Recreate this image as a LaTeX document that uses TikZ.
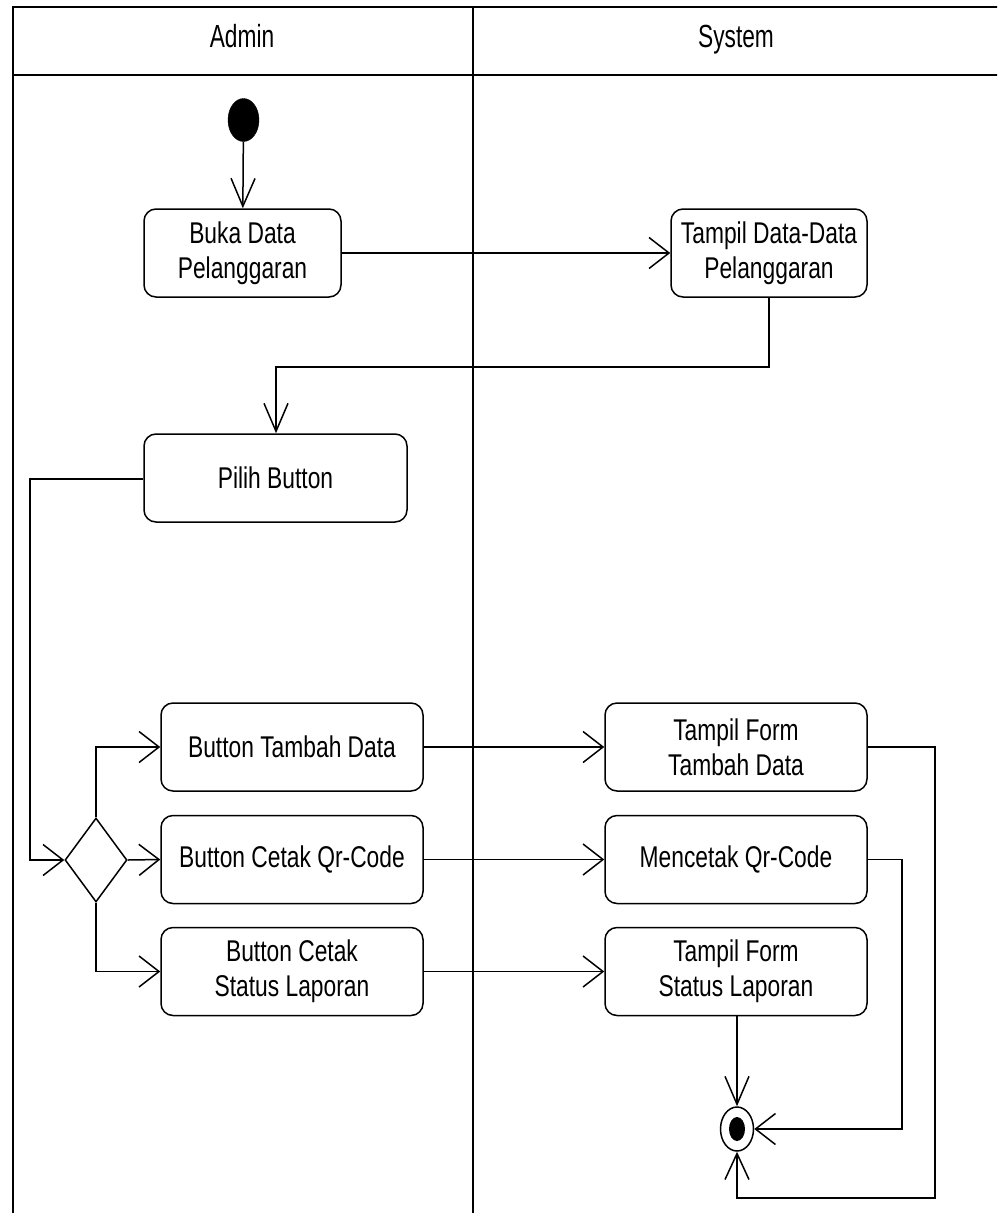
\documentclass[tikz,border=0pt]{standalone}
\usepackage{fontspec}
\setmainfont{Liberation Sans}[FakeStretch=0.76]
\newfontfamily\headfont{Liberation Sans}[FakeStretch=0.71]
\usetikzlibrary{arrows.meta,shapes.geometric}

\tikzset{
  frame/.style={line width=2pt},
  act/.style={draw, line width=1.5pt, rounded corners=12pt, align=center,
    inner sep=0pt, minimum height=88pt, font=\fontsize{30}{35}\selectfont},
  lanehead/.style={anchor=base, inner sep=0pt, font=\headfont\fontsize{32}{36}\selectfont},
  flow/.style={line width=1.5pt},
  harr/.style={flow, -{Straight Barb[length=20pt,width=31pt]}},
  varr/.style={flow, -{Straight Barb[length=28pt,width=24pt]}},
}

\begin{document}
\begin{tikzpicture}[x=1pt,y=-1pt]
\clip (0,0) rectangle (997,1213);
\useasboundingbox (0,0) rectangle (997,1213);

% swimlanes
\draw[frame] (13,1240) -- (13,7) -- (1001,7) -- (1001,1240);
\draw[frame] (13,75) -- (1001,75);
\draw[frame] (473,7) -- (473,1240);
\node[lanehead] (hadmin) at (242,47) {Admin};
\node[lanehead] (hsystem) at (736,47) {System};

% initial node
\node[ellipse, fill=black, draw, minimum width=31pt, minimum height=43pt, inner sep=0pt] (start) at (243.5,120) {};

% activities
\node[act, minimum width=197pt] (buka) at (242.5,253) {Buka Data\\Pelanggaran};
\node[act, minimum width=196pt] (tampil) at (769,253) {Tampil Data-Data\\Pelanggaran};
\node[act, minimum width=263pt] (pilih) at (275.5,478) {Pilih Button};

\node[act, minimum width=262pt] (btambah) at (292,747) {Button Tambah Data};
\node[act, minimum width=262pt] (bqr) at (292,859.5) {Button Cetak Qr-Code};
\node[act, minimum width=262pt] (bstatus) at (292,971.5) {Button Cetak\\Status Laporan};

\node[act, minimum width=262pt] (ftambah) at (736,747) {Tampil Form\\Tambah Data};
\node[act, minimum width=262pt] (fqr) at (736,859.5) {Mencetak Qr-Code};
\node[act, minimum width=262pt] (fstatus) at (736,971.5) {Tampil Form\\Status Laporan};

% decision
\node[diamond, draw, line width=1.5pt, minimum width=62pt, minimum height=84pt, inner sep=0pt] (dec) at (96,860) {};

% final node
\node[ellipse, draw, line width=1.5pt, minimum width=33pt, minimum height=44pt, inner sep=0pt] (end) at (737,1129) {};
\node[ellipse, fill=black, minimum width=16pt, minimum height=24pt, inner sep=0pt] (endcore) at (737,1129) {};

% flows
\draw[varr] (start) -- (buka);
\draw[harr] (buka) -- (tampil);
\draw[varr] (tampil.south) |- (276,367) -- (pilih.north -| 276,0);
\draw[harr] (pilih.west |- 0,479) -| (30,860) -- (dec.west);

\draw[harr] (dec.north) |- (btambah.west);
\draw[harr] (dec.east) -- (bqr.west);
\draw[harr] (dec.south) |- (bstatus.west);

\draw[harr] (btambah) -- (ftambah);
\draw[harr] (bqr) -- (fqr);
\draw[harr] (bstatus) -- (fstatus);

\draw[varr] (fstatus.south -| end) -- (end.north);
\draw[harr] (fqr.east) -| (902,1129) -- (end.east);
\draw[flow, -{Straight Barb[length=26pt,width=24pt]}] (ftambah.east) -| (935,1198) -| (end.south);
\end{tikzpicture}
\end{document}
